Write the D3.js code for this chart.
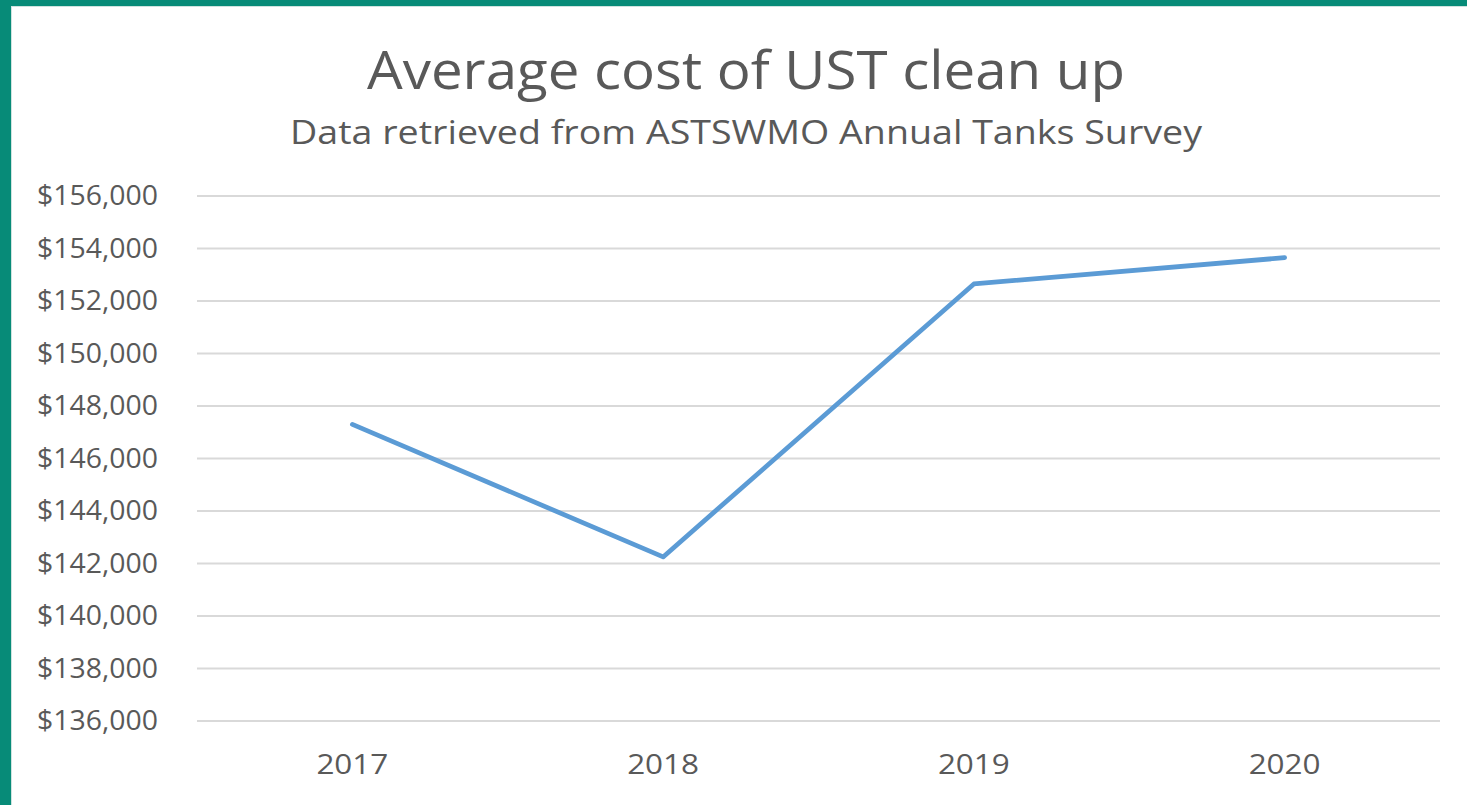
<!DOCTYPE html>
<html>
<head>
<meta charset="utf-8">
<title>Average cost of UST clean up</title>
<script src="https://d3js.org/d3.v7.min.js"></script>
<style>
body { margin: 0; background: #fff; font-family: 'Open Sans', Lato, sans-serif; }
svg { display: block; }
</style>
</head>
<body>
<div id="chart"></div>
<script>
// data
var years = ["2017", "2018", "2019", "2020"];
var costs = [147300, 142250, 152650, 153650];
var yTicks = [136000, 138000, 140000, 142000, 144000, 146000, 148000, 150000, 152000, 154000, 156000];

var W = 1467, H = 805;
var svg = d3.select("#chart").append("svg").attr("width", W).attr("height", H);

// teal frame on top and left
svg.append("rect").attr("x", 0).attr("y", 0).attr("width", W).attr("height", H).attr("fill", "#fff");
svg.append("rect").attr("x", 0).attr("y", 0).attr("width", W).attr("height", 6).attr("fill", "#078b78");
svg.append("rect").attr("x", 0).attr("y", 0).attr("width", 11).attr("height", H).attr("fill", "#078b78");
svg.append("line").attr("x1", 11).attr("x2", W).attr("y1", 6.5).attr("y2", 6.5).attr("stroke", "#cfe3df");
svg.append("line").attr("x1", 11.5).attr("x2", 11.5).attr("y1", 6).attr("y2", H).attr("stroke", "#cfe3df");

var margin = {left: 197, right: 27, top: 196, bottom: 84};
var width = W - margin.left - margin.right,
    height = H - margin.top - margin.bottom;

var g = svg.append("g").attr("transform", "translate(" + margin.left + "," + margin.top + ")");

var x = d3.scaleBand().domain(years).range([0, width]);
var y = d3.scaleLinear().domain([136000, 156000]).range([height, 0]);

// gridlines
g.selectAll(".grid").data(yTicks).enter().append("line")
  .attr("class", "grid")
  .attr("x1", 0).attr("x2", width)
  .attr("y1", function(d) { return y(d); }).attr("y2", function(d) { return y(d); })
  .attr("stroke", "#d9d9d9").attr("stroke-width", 2);

// y axis labels (the source is a little stretched sideways)
var fmt = d3.format("$,.0f");
var yAxis = g.append("g").call(d3.axisLeft(y).tickValues(yTicks).tickFormat(fmt).tickSize(0).tickPadding(39));
yAxis.select(".domain").remove();
yAxis.selectAll("text").attr("fill", "#595959")
  .style("font-size", "27px").style("font-family", "'Open Sans', sans-serif")
  .attr("textLength", 121).attr("lengthAdjust", "spacingAndGlyphs");

// x axis labels
var xAxis = g.append("g").attr("transform", "translate(0," + height + ")")
  .call(d3.axisBottom(x).tickSize(0).tickPadding(33));
xAxis.select(".domain").remove();
xAxis.selectAll("text").attr("fill", "#595959")
  .style("font-size", "28px").style("font-family", "'Open Sans', sans-serif")
  .attr("textLength", 72).attr("lengthAdjust", "spacingAndGlyphs");

// the line
var line = d3.line()
  .x(function(d, i) { return x(years[i]) + x.bandwidth() / 2; })
  .y(function(d) { return y(d); });

g.append("path").datum(costs)
  .attr("d", line)
  .attr("fill", "none")
  .attr("stroke", "#5b9bd5")
  .attr("stroke-width", 4.75)
  .attr("stroke-linejoin", "round")
  .attr("stroke-linecap", "round");

// titles
svg.append("text").attr("x", 746).attr("y", 89)
  .attr("text-anchor", "middle").attr("fill", "#595959")
  .style("font-size", "53px")
  .attr("textLength", 758).attr("lengthAdjust", "spacingAndGlyphs")
  .text("Average cost of UST clean up");

svg.append("text").attr("x", 746).attr("y", 144)
  .attr("text-anchor", "middle").attr("fill", "#595959")
  .style("font-size", "32.5px")
  .attr("textLength", 912).attr("lengthAdjust", "spacingAndGlyphs")
  .text("Data retrieved from ASTSWMO Annual Tanks Survey");
</script>
</body>
</html>
